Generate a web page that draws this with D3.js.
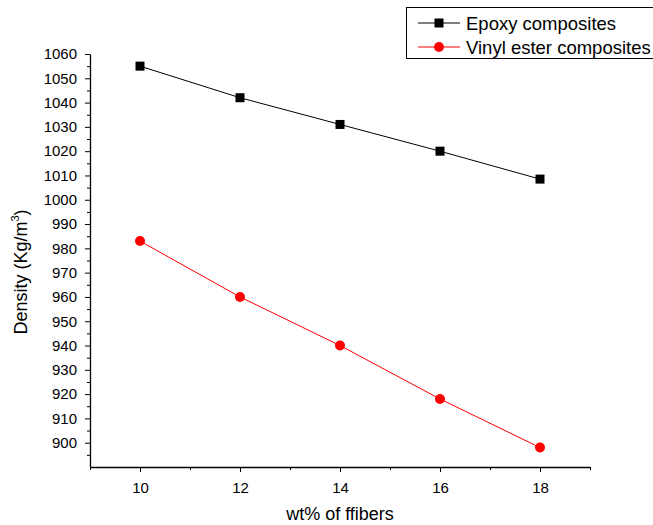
<!DOCTYPE html>
<html>
<head>
<meta charset="utf-8">
<script src="https://cdn.jsdelivr.net/npm/d3@7"></script>
<style>
  body { margin: 0; background: #fff; }
  svg { display: block; font-family: "Liberation Sans", Arial, sans-serif; }
</style>
</head>
<body>
<div id="chart"></div>
<script>
// data
const fiberWt = [10, 12, 14, 16, 18];
const epoxy = [1055, 1042, 1031, 1020, 1008.5];
const vinylEster = [983, 960, 940, 918, 898];
const xTicks = [10, 12, 14, 16, 18];
const yTicks = d3.range(900, 1061, 10);

const width = 653, height = 525;
const margin = { top: 54, right: 63, bottom: 58, left: 90 };
const innerW = width - margin.left - margin.right;
const innerH = height - margin.top - margin.bottom;

const svg = d3.select("#chart")
  .append("svg")
  .attr("width", width)
  .attr("height", height);

const g = svg.append("g")
  .attr("transform", `translate(${margin.left},${margin.top})`);

const x = d3.scaleLinear().domain([9, 19]).range([0, innerW]);
const y = d3.scaleLinear().domain([890, 1060]).range([innerH, 0]);

// minor ticks first, then major ticks with labels
g.append("g")
  .attr("transform", `translate(0,${innerH})`)
  .call(d3.axisBottom(x).tickValues(d3.range(9, 20, 1)).tickSize(3).tickFormat(""))
  .call(a => a.select(".domain").remove());

g.append("g")
  .attr("transform", `translate(0,${innerH})`)
  .call(d3.axisBottom(x).tickValues(xTicks).tickSize(5).tickSizeOuter(0).tickPadding(10).tickFormat(d3.format("d")))
  .call(a => a.selectAll("text").attr("font-size", 15).attr("font-family", null).attr("fill", "#000"));

g.append("g")
  .call(d3.axisLeft(y).tickValues(d3.range(895, 1060, 10)).tickSize(3).tickFormat(""))
  .call(a => a.select(".domain").remove());

g.append("g")
  .call(d3.axisLeft(y).tickValues(yTicks).tickSize(5).tickSizeOuter(0).tickPadding(8).tickFormat(d3.format("d")))
  .call(a => a.selectAll("text").attr("font-size", 15).attr("font-family", null).attr("fill", "#000"));

g.selectAll(".domain").attr("stroke-width", 1.3);

// axis titles
g.append("text")
  .attr("x", innerW / 2)
  .attr("y", innerH + 53)
  .attr("text-anchor", "middle")
  .attr("font-size", 18)
  .text("wt% of ffibers");

const yt = g.append("text")
  .attr("transform", `translate(${-63},${218}) rotate(-90)`)
  .attr("text-anchor", "middle")
  .attr("font-size", 18);
yt.append("tspan").text("Density (Kg/m");
yt.append("tspan").attr("font-size", 11).attr("dy", -8).text("3");
yt.append("tspan").attr("dy", 8).text(")");

const series = [
  { name: "Epoxy composites", values: epoxy, color: "#000000", shape: "square" },
  { name: "Vinyl ester composites", values: vinylEster, color: "#ff0000", shape: "circle" }
];

const line = d3.line()
  .x(d => x(d[0]))
  .y(d => y(d[1]));

series.forEach(s => {
  const pts = fiberWt.map((w, i) => [w, s.values[i]]);
  g.append("path")
    .datum(pts)
    .attr("fill", "none")
    .attr("stroke", s.color)
    .attr("stroke-width", 1)
    .attr("d", line);

  if (s.shape === "square") {
    g.selectAll(null)
      .data(pts)
      .join("rect")
      .attr("x", d => x(d[0]) - 4.5)
      .attr("y", d => y(d[1]) - 4.5)
      .attr("width", 9)
      .attr("height", 9)
      .attr("fill", s.color);
  } else {
    g.selectAll(null)
      .data(pts)
      .join("circle")
      .attr("cx", d => x(d[0]))
      .attr("cy", d => y(d[1]))
      .attr("r", 5)
      .attr("fill", s.color);
  }
});

// legend
const lg = svg.append("g");
lg.append("rect")
  .attr("x", 406.5)
  .attr("y", 7.5)
  .attr("width", 260)
  .attr("height", 51)
  .attr("fill", "none")
  .attr("stroke", "#000")
  .attr("stroke-width", 1);

series.forEach((s, i) => {
  const cy = 23 + i * 24;
  lg.append("line")
    .attr("x1", 418).attr("x2", 460)
    .attr("y1", cy).attr("y2", cy)
    .attr("stroke", s.color);
  if (s.shape === "square") {
    lg.append("rect")
      .attr("x", 439 - 4.5).attr("y", cy - 4.5)
      .attr("width", 9).attr("height", 9)
      .attr("fill", s.color);
  } else {
    lg.append("circle")
      .attr("cx", 439).attr("cy", cy).attr("r", 5)
      .attr("fill", s.color);
  }
  lg.append("text")
    .attr("x", 466)
    .attr("y", cy)
    .attr("dy", "0.36em")
    .attr("font-size", 18.5)
    .text(s.name);
});
</script>
</body>
</html>
